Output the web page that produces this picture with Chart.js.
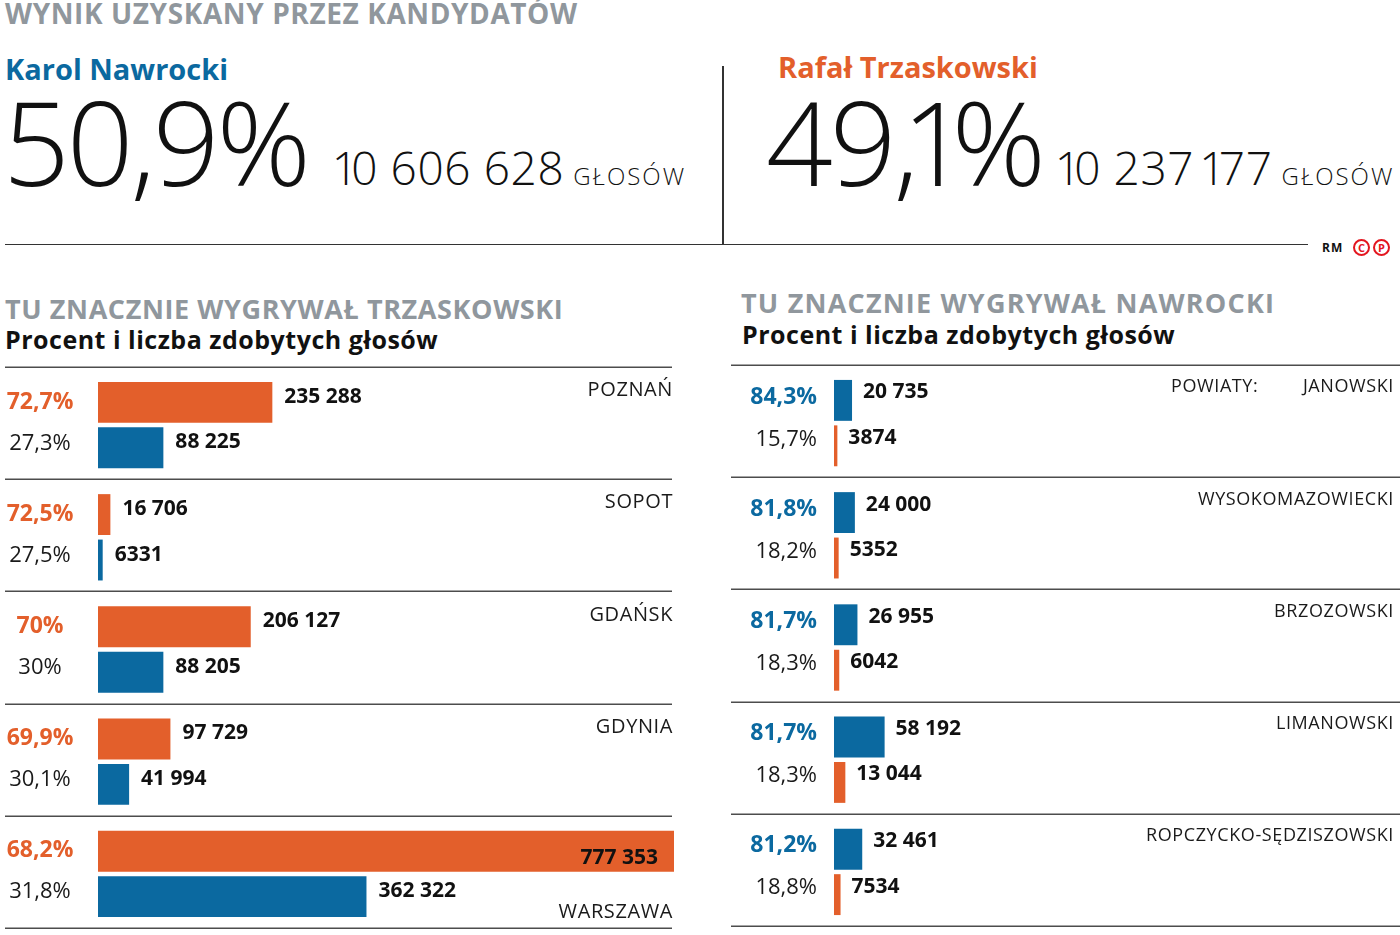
<!DOCTYPE html>
<html lang="pl">
<head>
<meta charset="utf-8">
<title>Wynik uzyskany przez kandydatów</title>
<script src="https://cdn.jsdelivr.net/npm/chart.js@4.4.1/dist/chart.umd.min.js"></script>
<style>
  body { margin: 0; background: #fff; }
  #page { position: relative; width: 1400px; height: 935px; overflow: hidden; font-family: 'Open Sans', sans-serif; color: #111; }
  .t { position: absolute; white-space: nowrap; line-height: 1; }
  .gray { color: #90979d; font-weight: 700; font-size: 27px; letter-spacing: 0.6px; }
  .title { font-size: 28px; }
  .name { font-weight: 700; font-size: 29px; }
  .big { font-weight: 300; font-size: 117px; letter-spacing: -3px; }
  .votes { font-weight: 300; font-size: 46px; letter-spacing: 0.6px; }
  .unit { font-weight: 300; font-size: 24px; letter-spacing: 2px; margin-left: 9px; }
  .sub { font-weight: 700; font-size: 25px; letter-spacing: 0.5px; }
  .big .one { margin: 0 -0.12em; }
  .votes .one { margin: 0 -0.16em; }
  .cp { position: absolute; top: 239px; width: 13px; height: 13px; border: 2.5px solid #e3161f; border-radius: 50%;
        color: #e3161f; font: 700 11px/13px 'Open Sans', sans-serif; text-align: center; }
  canvas { position: absolute; }
</style>
</head>
<body>
<div id="page">
  <div class="t gray title" style="left:5px; top:-1px;">WYNIK UZYSKANY PRZEZ KANDYDATÓW</div>

  <div class="t name" style="left:5px; top:54px; color:#0b69a0;">Karol Nawrocki</div>
  <div class="t big" style="left:3px; top:82px;">50,9%</div>
  <div class="t votes" style="left:339px; top:144px;"><span class="one">1</span>0 606 628<span class="unit">GŁOSÓW</span></div>

  <div style="position:absolute; left:722px; top:66px; width:1.5px; height:178px; background:#333;"></div>

  <div class="t name" style="left:778px; top:52px; color:#e35f2b;">Rafał Trzaskowski</div>
  <div class="t big" style="left:766px; top:82px;">49,<span class="one">1</span>%</div>
  <div class="t votes" style="left:1062px; top:144px;"><span class="one">1</span>0 237 <span class="one">1</span>77<span class="unit">GŁOSÓW</span></div>

  <div style="position:absolute; left:5px; top:243.5px; width:1303px; height:1.5px; background:#333;"></div>
  <div class="t" style="left:1322px; top:242px; font-size:12px; font-weight:700; letter-spacing:1px;">RM</div>
  <div class="cp" style="left:1353px;">C</div>
  <div class="cp" style="left:1373px;">P</div>

  <div class="t gray" style="left:5px; top:295px;">TU ZNACZNIE WYGRYWAŁ TRZASKOWSKI</div>
  <div class="t sub" style="left:5px; top:327px;">Procent i liczba zdobytych głosów</div>

  <div class="t gray" style="left:741px; top:289px; letter-spacing:1.2px;">TU ZNACZNIE WYGRYWAŁ NAWROCKI</div>
  <div class="t sub" style="left:742px; top:322px;">Procent i liczba zdobytych głosów</div>

  <canvas id="cities" width="700" height="580" style="left:0; top:355px;"></canvas>
  <canvas id="counties" width="680" height="580" style="left:720px; top:355px;"></canvas>
</div>

<script>
const ORANGE = '#e35f2b';
const BLUE = '#0b69a0';
const FONT = '"Open Sans", sans-serif';

// miasta - wygrywał Trzaskowski
const cityNames = ['POZNAŃ', 'SOPOT', 'GDAŃSK', 'GDYNIA', 'WARSZAWA'];
const cityTrzVotes = [235288, 16706, 206127, 97729, 777353];
const cityNawVotes = [88225, 6331, 88205, 41994, 362322];
const cityTrzPct = ['72,7%', '72,5%', '70%', '69,9%', '68,2%'];
const cityNawPct = ['27,3%', '27,5%', '30%', '30,1%', '31,8%'];

// powiaty - wygrywał Nawrocki
const countyNames = ['JANOWSKI', 'WYSOKOMAZOWIECKI', 'BRZOZOWSKI', 'LIMANOWSKI', 'ROPCZYCKO-SĘDZISZOWSKI'];
const countyNawVotes = [20735, 24000, 26955, 58192, 32461];
const countyTrzVotes = [3874, 5352, 6042, 13044, 7534];
const countyNawPct = ['84,3%', '81,8%', '81,7%', '81,7%', '81,2%'];
const countyTrzPct = ['15,7%', '18,2%', '18,3%', '18,3%', '18,8%'];

const COUNTY_MAX = 645000;

// 4-cyfrowe liczby bez spacji, jak w gazecie
function fmt(n) {
  const s = String(n);
  if (s.length < 5) return s;
  return s.replace(/\B(?=(\d{3})+(?!\d))/g, ' ');
}

function text(ctx, str, x, cy, font, size, color, align, spacing) {
  ctx.font = font;
  ctx.fillStyle = color;
  ctx.textAlign = align;
  ctx.textBaseline = 'alphabetic';
  if ('letterSpacing' in ctx) ctx.letterSpacing = (spacing || 0) + 'px';
  ctx.fillText(str, x, cy + size * 0.357);
  if ('letterSpacing' in ctx) ctx.letterSpacing = '0px';
}

const panelLabels = {
  id: 'panelLabels',
  afterDatasetsDraw(chart, args, o) {
    const ctx = chart.ctx;
    const yScale = chart.scales.y;
    const n = chart.data.labels.length;
    const step = chart.chartArea.height / n;
    ctx.save();

    ctx.strokeStyle = '#4d4d4d';
    ctx.lineWidth = 1.5;
    for (let i = 0; i <= n; i++) {
      const yy = Math.round(chart.chartArea.top + i * step - 2) + 0.25;
      ctx.beginPath();
      ctx.moveTo(o.lineFrom, yy);
      ctx.lineTo(o.lineTo, yy);
      ctx.stroke();
    }

    for (let i = 0; i < n; i++) {
      const top = yScale.getPixelForValue(i) - step / 2 - 2;
      const bottom = top + step;
      for (let d = 0; d < 2; d++) {
        const bar = chart.getDatasetMeta(d).data[i];
        const st = o.pctStyle[d];
        text(ctx, o.pct[d][i], o.pctX, bar.y + st.dy, st.font, st.size, st.color, o.pctAlign);

        const label = fmt(chart.data.datasets[d].data[i]);
        ctx.font = '700 21px ' + FONT;
        const w = ctx.measureText(label).width;
        if (bar.x + o.valueGap + w > chart.width - 5) {
          // nie mieści się za słupkiem - wpisz do środka
          text(ctx, label, bar.x - 16, bar.y + 5, '700 21px ' + FONT, 21, '#111', 'right');
        } else {
          text(ctx, label, bar.x + o.valueGap, bar.y + o.valueDy, '700 21px ' + FONT, 21, '#111', 'left');
        }
      }

      const nameFont = '400 ' + o.nameSize + 'px ' + FONT;
      ctx.font = nameFont;
      const nw = ctx.measureText(chart.data.labels[i]).width;
      const topBar = chart.getDatasetMeta(0).data[i];
      const nameY = topBar.x > o.nameX - nw - 20 ? bottom - 17 : top + o.nameDy;
      text(ctx, chart.data.labels[i], o.nameX, nameY, nameFont, o.nameSize, '#1a1a1a', 'right', 0.6);
      if (i === 0 && o.prefix) {
        text(ctx, o.prefix, o.prefixX, nameY, nameFont, o.nameSize, '#1a1a1a', 'left', 0.6);
      }
    }
    ctx.restore();
  }
};

function panelChart(id, labels, topVotes, bottomVotes, topColor, bottomColor, max, padding, labelOpts) {
  return new Chart(document.getElementById(id), {
    type: 'bar',
    data: {
      labels: labels,
      datasets: [
        { data: topVotes, backgroundColor: topColor, borderWidth: 0 },
        { data: bottomVotes, backgroundColor: bottomColor, borderWidth: 0 }
      ]
    },
    options: {
      indexAxis: 'y',
      responsive: false,
      animation: false,
      devicePixelRatio: 1,
      layout: { padding: padding },
      datasets: { bar: { categoryPercentage: 0.81, barPercentage: 0.9 } },
      scales: {
        x: { display: false, min: 0, max: max },
        y: { display: false }
      },
      plugins: {
        legend: { display: false },
        tooltip: { enabled: false },
        panelLabels: labelOpts
      }
    },
    plugins: [panelLabels]
  });
}

panelChart('cities', cityNames, cityTrzVotes, cityNawVotes, ORANGE, BLUE,
  Math.max(...cityTrzVotes),
  { left: 98, right: 26, top: 14, bottom: 5 },
  {
    lineFrom: 5, lineTo: 672,
    pct: [cityTrzPct, cityNawPct], pctX: 40, pctAlign: 'center',
    pctStyle: [
      { font: '700 23px ' + FONT, size: 23, color: ORANGE, dy: -2 },
      { font: '400 22px ' + FONT, size: 22, color: '#1a1a1a', dy: -6 }
    ],
    valueGap: 12, valueDy: -7,
    nameX: 673, nameDy: 22, nameSize: 20
  });

panelChart('counties', countyNames, countyNawVotes, countyTrzVotes, BLUE, ORANGE,
  COUNTY_MAX,
  { left: 114, right: 5, top: 12, bottom: 7 },
  {
    lineFrom: 11, lineTo: 680,
    pct: [countyNawPct, countyTrzPct], pctX: 97, pctAlign: 'right',
    pctStyle: [
      { font: '700 23px ' + FONT, size: 23, color: BLUE, dy: -5 },
      { font: '400 22px ' + FONT, size: 22, color: '#1a1a1a', dy: -8 }
    ],
    valueGap: 11, valueDy: -9.5,
    nameX: 674, nameDy: 21, nameSize: 18,
    prefix: 'POWIATY:', prefixX: 451
  });
</script>
</body>
</html>
